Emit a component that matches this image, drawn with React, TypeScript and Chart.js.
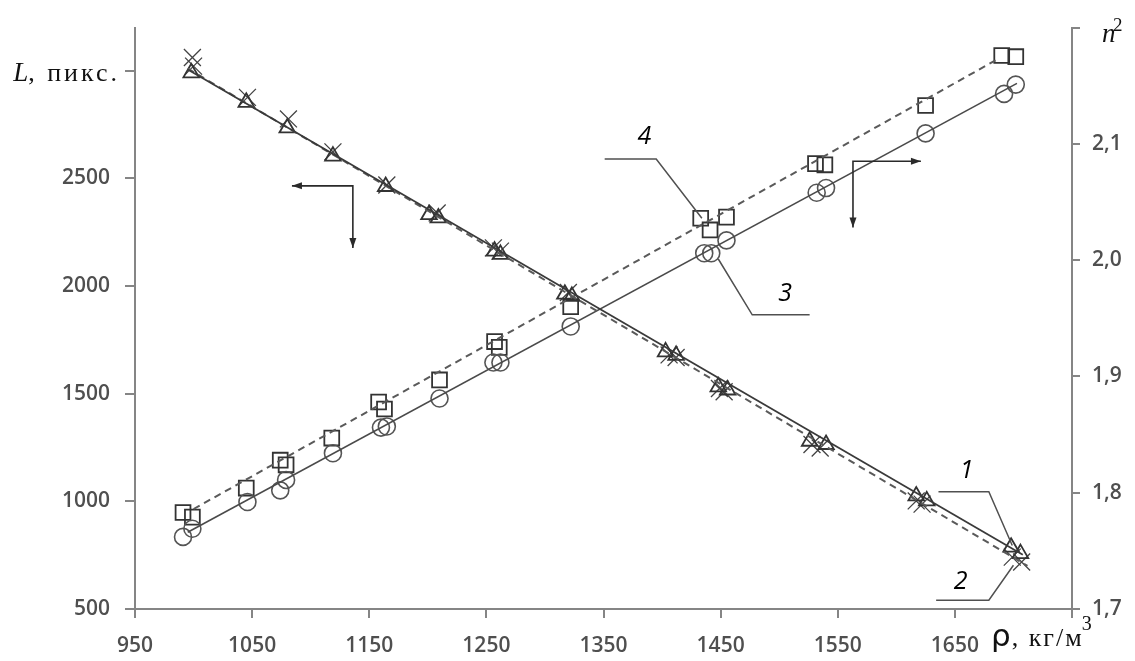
import React, { useEffect, useRef } from 'react';
import { Chart, registerables } from 'chart.js';

Chart.register(...registerables);

// ---- axes ----
const X_TICKS = [950, 1050, 1150, 1250, 1350, 1450, 1550, 1650, 1750];
const L_TICKS = [500, 1000, 1500, 2000, 2500, 3000];
const N_TICKS = [1.7, 1.8, 1.9, 2.0, 2.1, 2.2];
const X_MIN = 950;
const X_MAX = 1750;
const L_MIN = 500;
const L_MAX = 3200;
const N_MIN = 1.7;
const N_MAX = 2.2;

// ---- series 1: L (triangles), solid fit ----
const RHO_1 = [998, 1045, 1080, 1119, 1164, 1201, 1209, 1257, 1262, 1317, 1323, 1403, 1412, 1448, 1456, 1526, 1540, 1617, 1626, 1698, 1706];
const L_1 = [2990, 2853, 2734, 2603, 2462, 2331, 2316, 2162, 2147, 1962, 1952, 1694, 1678, 1532, 1517, 1279, 1264, 1025, 1002, 787, 757];
const FIT_RHO_1 = [995, 1708];
const FIT_L_1 = [3005, 752];

// ---- series 2: L (crosses), dashed fit ----
const RHO_2 = [999, 1000, 1046, 1081, 1119, 1165, 1208, 1256, 1262, 1320, 1406, 1412, 1449, 1453, 1528, 1535, 1617, 1622, 1699, 1707];
const L_2 = [3061, 3021, 2876, 2776, 2623, 2469, 2339, 2177, 2162, 1970, 1680, 1668, 1524, 1509, 1264, 1248, 1002, 987, 741, 718];
const FIT_RHO_2 = [995, 1712];
const FIT_L_2 = [3010, 700];

// ---- series 3: n^2 (circles), solid fit ----
const RHO_3 = [991, 999, 1046, 1074, 1079, 1119, 1160, 1165, 1210, 1256, 1262, 1322, 1436, 1442, 1455, 1532, 1540, 1625, 1692, 1702];
const N_3 = [1.762, 1.769, 1.792, 1.802, 1.811, 1.834, 1.856, 1.857, 1.881, 1.912, 1.912, 1.943, 2.006, 2.006, 2.017, 2.058, 2.062, 2.109, 2.143, 2.151];
const FIT_RHO_3 = [995, 1703];
const FIT_N_3 = [1.766, 2.152];

// ---- series 4: n^2 (squares), dashed fit ----
const RHO_4 = [991, 999, 1045, 1074, 1079, 1118, 1158, 1163, 1210, 1257, 1261, 1322, 1433, 1441, 1455, 1531, 1539, 1625, 1690, 1702];
const N_4 = [1.783, 1.779, 1.804, 1.828, 1.824, 1.847, 1.878, 1.872, 1.897, 1.930, 1.925, 1.960, 2.036, 2.026, 2.037, 2.083, 2.082, 2.133, 2.176, 2.175];
const FIT_RHO_4 = [1000, 1685];
const FIT_N_4 = [1.786, 2.172];

// ---- annotations (data coordinates) ----
const ARROW_L_RHO = [1084, 1136, 1136];
const ARROW_L_VAL = [2465, 2465, 2177];
const ARROW_N_RHO = [1621, 1563, 1563];
const ARROW_N_VAL = [2.085, 2.085, 2.028];

const LEAD_1_RHO = [1636, 1679, 1699];
const LEAD_1_VAL = [1045, 1045, 795];
const LEAD_2_RHO = [1634, 1679, 1700];
const LEAD_2_VAL = [541, 541, 703];
const LEAD_3_RHO = [1448, 1477, 1526];
const LEAD_3_VAL = [2.001, 1.953, 1.953];
const LEAD_4_RHO = [1351, 1395, 1434];
const LEAD_4_VAL = [2.087, 2.087, 2.036];

const LABEL_TEXT = ['1', '2', '3', '4'];
const LABEL_RHO = [1660, 1655, 1505, 1385];
const LABEL_VAL = [1141, 626, 1.971, 2.106];
const LABEL_AXIS = ['yL', 'yL', 'yN', 'yN'];

const AXIS_COLOR = '#858585';
const TICK_COLOR = '#4f4f4f';
const MARK_COLOR = '#333333';
const LINE_COLOR = '#4a4a4a';

const pts = (xs: number[], ys: number[]) => xs.map((x, i) => ({ x, y: ys[i] }));

function drawHead(ctx: CanvasRenderingContext2D, fx: number, fy: number, tx: number, ty: number) {
  const a = Math.atan2(ty - fy, tx - fx);
  const len = 10;
  const w = 3.5;
  ctx.beginPath();
  ctx.moveTo(tx, ty);
  ctx.lineTo(tx - len * Math.cos(a) + w * Math.sin(a), ty - len * Math.sin(a) - w * Math.cos(a));
  ctx.lineTo(tx - len * Math.cos(a) - w * Math.sin(a), ty - len * Math.sin(a) + w * Math.cos(a));
  ctx.closePath();
  ctx.fill();
}

const annotPlugin = {
  id: 'annot',
  afterDatasetsDraw(chart: any) {
    const ctx: CanvasRenderingContext2D = chart.ctx;
    const sx = chart.scales.x;
    const path = (rhos: number[], vals: number[], axis: string) =>
      rhos.map((r, i) => [sx.getPixelForValue(r), chart.scales[axis].getPixelForValue(vals[i])]);
    const poly = (p: number[][]) => {
      ctx.beginPath();
      ctx.moveTo(p[0][0], p[0][1]);
      for (let i = 1; i < p.length; i++) ctx.lineTo(p[i][0], p[i][1]);
      ctx.stroke();
    };
    ctx.save();
    ctx.strokeStyle = '#2a2a2a';
    ctx.fillStyle = '#2a2a2a';
    ctx.lineWidth = 1.6;
    const a1 = path(ARROW_L_RHO, ARROW_L_VAL, 'yL');
    const a2 = path(ARROW_N_RHO, ARROW_N_VAL, 'yN');
    [a1, a2].forEach((p) => {
      poly(p);
      drawHead(ctx, p[1][0], p[1][1], p[0][0], p[0][1]);
      drawHead(ctx, p[1][0], p[1][1], p[2][0], p[2][1]);
    });
    ctx.strokeStyle = '#505050';
    ctx.lineWidth = 1.5;
    poly(path(LEAD_1_RHO, LEAD_1_VAL, 'yL'));
    poly(path(LEAD_2_RHO, LEAD_2_VAL, 'yL'));
    poly(path(LEAD_3_RHO, LEAD_3_VAL, 'yN'));
    poly(path(LEAD_4_RHO, LEAD_4_VAL, 'yN'));
    ctx.fillStyle = '#000';
    ctx.font = 'italic 25px "Open Sans"';
    ctx.textAlign = 'center';
    ctx.textBaseline = 'middle';
    LABEL_TEXT.forEach((t, i) => {
      ctx.fillText(t, sx.getPixelForValue(LABEL_RHO[i]), chart.scales[LABEL_AXIS[i]].getPixelForValue(LABEL_VAL[i]));
    });
    ctx.restore();
  },
  afterDraw(chart: any) {
    const ctx: any = chart.ctx;
    const yl = chart.scales.yL;
    const yn = chart.scales.yN;
    const sx = chart.scales.x;
    ctx.save();
    ctx.fillStyle = '#111';
    ctx.textBaseline = 'alphabetic';
    ctx.textAlign = 'left';
    // L, пикс.
    const baseL = yl.getPixelForValue(3000) + 10;
    const sp = 3;
    const rest = ', пикс.';
    ctx.letterSpacing = '0px';
    ctx.font = '26px "Liberation Serif"';
    const wRest = ctx.measureText(rest).width + sp * rest.length;
    ctx.font = 'italic 27px "Liberation Serif"';
    const wL = ctx.measureText('L').width;
    const right = yl.left + 120;
    ctx.fillText('L', right - wRest - wL, baseL);
    ctx.font = '26px "Liberation Serif"';
    ctx.letterSpacing = sp + 'px';
    ctx.fillText(rest, right - wRest, baseL);
    ctx.letterSpacing = '0px';
    // n^2
    const nx = yn.left + 30;
    const ny = yn.getPixelForValue(2.2) + 14;
    ctx.font = 'italic 27px "Liberation Serif"';
    ctx.fillText('n', nx, ny);
    ctx.font = '19px "Liberation Serif"';
    ctx.fillText('2', nx + 11, ny - 11);
    // ρ, кг/м3
    const bx = sx.getPixelForValue(1750) - 81;
    const by = sx.top + 37;
    ctx.font = '31px "DejaVu Sans"';
    ctx.fillText('ρ', bx, by);
    let cx = bx + ctx.measureText('ρ').width + 1;
    const sp2 = 2;
    const unit = ', кг/м';
    ctx.font = '26px "Liberation Serif"';
    const wUnit = ctx.measureText(unit).width + sp2 * unit.length;
    ctx.letterSpacing = sp2 + 'px';
    ctx.fillText(unit, cx, by);
    ctx.letterSpacing = '0px';
    cx += wUnit - 2;
    ctx.font = '20px "Liberation Serif"';
    ctx.fillText('3', cx, by - 16);
    ctx.restore();
  },
};

export default function App() {
  const ref = useRef<HTMLCanvasElement>(null);
  useEffect(() => {
    const tickFont = { family: '"Open Sans"', size: 21, weight: '600' };
    const chart = new Chart(ref.current as HTMLCanvasElement, {
      type: 'scatter',
      data: {
        datasets: [
          { data: pts(FIT_RHO_1, FIT_L_1), yAxisID: 'yL', showLine: true, pointRadius: 0, borderColor: '#3a3a3a', borderWidth: 1.8 },
          { data: pts(FIT_RHO_2, FIT_L_2), yAxisID: 'yL', showLine: true, pointRadius: 0, borderColor: '#5a5a5a', borderWidth: 2, borderDash: [7, 5] },
          { data: pts(FIT_RHO_3, FIT_N_3), yAxisID: 'yN', showLine: true, pointRadius: 0, borderColor: LINE_COLOR, borderWidth: 1.6 },
          { data: pts(FIT_RHO_4, FIT_N_4), yAxisID: 'yN', showLine: true, pointRadius: 0, borderColor: '#5a5a5a', borderWidth: 2, borderDash: [7, 5] },
          { data: pts(RHO_1, L_1), yAxisID: 'yL', pointStyle: 'triangle', pointRadius: 9, borderColor: MARK_COLOR, backgroundColor: 'rgba(0,0,0,0)', borderWidth: 1.8 },
          { data: pts(RHO_2, L_2), yAxisID: 'yL', pointStyle: 'crossRot', pointRadius: 12, borderColor: '#444', backgroundColor: 'rgba(0,0,0,0)', borderWidth: 1.3 },
          { data: pts(RHO_3, N_3), yAxisID: 'yN', pointStyle: 'circle', pointRadius: 8.5, borderColor: '#555', backgroundColor: 'rgba(0,0,0,0)', borderWidth: 1.6 },
          { data: pts(RHO_4, N_4), yAxisID: 'yN', pointStyle: 'rect', pointRadius: 10.5, borderColor: MARK_COLOR, backgroundColor: 'rgba(0,0,0,0)', borderWidth: 1.8 },
        ],
      },
      options: {
        responsive: false,
        devicePixelRatio: 1,
        animation: false,
        layout: { padding: { top: 23, left: 0, right: 0, bottom: 0 } },
        plugins: { legend: { display: false }, tooltip: { enabled: false } },
        scales: {
          x: {
            type: 'linear',
            min: X_MIN,
            max: X_MAX,
            afterBuildTicks: (s: any) => { s.ticks = X_TICKS.map((v) => ({ value: v })); },
            afterFit: (s: any) => { s.height = 52; },
            ticks: { callback: (v: any) => (v === 1750 ? '' : String(v)), font: tickFont, color: TICK_COLOR, padding: 15, maxRotation: 0, autoSkip: false },
            grid: { drawOnChartArea: false, drawTicks: true, tickLength: 9, color: AXIS_COLOR, lineWidth: 2 },
            border: { color: AXIS_COLOR, width: 2 },
          },
          yL: {
            type: 'linear',
            position: 'left',
            min: L_MIN,
            max: L_MAX,
            afterBuildTicks: (s: any) => { s.ticks = L_TICKS.map((v) => ({ value: v })); },
            afterFit: (s: any) => { s.width = 135; },
            ticks: { callback: (v: any) => (v === 3000 ? '' : String(v)), font: tickFont, color: TICK_COLOR, padding: 15, autoSkip: false },
            grid: { drawOnChartArea: false, drawTicks: true, tickLength: 10, color: AXIS_COLOR, lineWidth: 2 },
            border: { color: AXIS_COLOR, width: 2 },
          },
          yN: {
            type: 'linear',
            position: 'right',
            min: N_MIN,
            max: N_MAX,
            afterBuildTicks: (s: any) => { s.ticks = N_TICKS.map((v) => ({ value: v })); },
            afterFit: (s: any) => { s.width = 63; },
            ticks: { callback: (v: any) => (v > 2.15 ? '' : Number(v).toFixed(1).replace('.', ',')), font: tickFont, color: TICK_COLOR, padding: 12, autoSkip: false },
            grid: { drawOnChartArea: false, drawTicks: true, tickLength: 8, color: AXIS_COLOR, lineWidth: 2 },
            border: { color: AXIS_COLOR, width: 2 },
          },
        },
      },
      plugins: [annotPlugin],
    } as any);
    return () => chart.destroy();
  }, []);
  return (
    <div style={{ position: 'absolute', left: 0, top: 0, width: 1135, height: 661, background: '#fff' }}>
      <canvas ref={ref} width={1135} height={661} style={{ display: 'block' }} />
    </div>
  );
}
